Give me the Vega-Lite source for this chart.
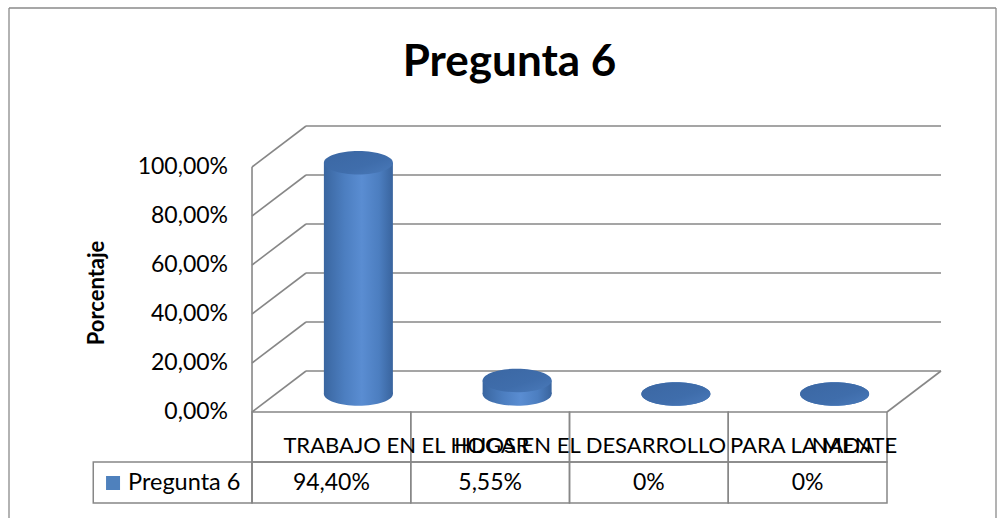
{
  "$schema": "https://vega.github.io/schema/vega-lite/v6.json",
  "width": 987,
  "height": 510,
  "autosize": "none",
  "padding": {"left": 9, "top": 8, "right": 4, "bottom": 0},
  "background": "#ffffff",
  "title": {"text": "Pregunta 6", "font": "Lato", "fontSize": 44, "fontWeight": "bold", "color": "#000000", "anchor": "middle", "frame": "group", "offset": 0, "baseline": "alphabetic", "dx": 7, "dy": 113},
  "datasets": {
    "respuestas": [
      {"categoria": "TRABAJO  EN EL HOGAR", "porcentaje": 0.944, "etiqueta": "94,40%"},
      {"categoria": "HIJOS EN EL DESARROLLO", "porcentaje": 0.0555, "etiqueta": "5,55%"},
      {"categoria": "PARA LA MENTE", "porcentaje": 0, "etiqueta": "0%"},
      {"categoria": "NADA", "porcentaje": 0, "etiqueta": "0%"}
    ],
    "rejilla": [{"v": 0}, {"v": 0.2}, {"v": 0.4}, {"v": 0.6}, {"v": 0.8}, {"v": 1}],
    "serie": [{"serie": "Pregunta 6", "eje": "Porcentaje"}]
  },
  "layer": [
    {
      "data": {"name": "rejilla"},
      "mark": {"type": "rule", "color": "#878787", "strokeWidth": 1.6, "xOffset": 54, "x2Offset": 54, "yOffset": -41},
      "encoding": {
        "x": {"datum": "TRABAJO  EN EL HOGAR", "type": "nominal", "bandPosition": 0, "axis": null,
              "scale": {"type": "band", "domain": ["Pregunta 6", "TRABAJO  EN EL HOGAR", "HIJOS EN EL DESARROLLO", "PARA LA MENTE", "NADA"], "paddingInner": 0, "paddingOuter": 0.6087, "align": 0.436}},
        "x2": {"datum": "NADA", "bandPosition": 1},
        "y": {"field": "v", "type": "quantitative", "axis": null,
              "scale": {"type": "linear", "domain": [-0.43265, 1.64898], "nice": false, "zero": false}}
      }
    },
    {
      "data": {"name": "serie"},
      "mark": {"type": "rule", "color": "#8a8a8a", "strokeWidth": 1.3, "xOffset": -84.26},
      "encoding": {
        "x": {"datum": "Pregunta 6", "type": "nominal", "bandPosition": 0, "axis": null},
        "y": {"datum": 1.64898, "type": "quantitative", "axis": null},
        "y2": {"datum": -0.46}
      }
    },
    {
      "data": {"name": "serie"},
      "mark": {"type": "rule", "color": "#8a8a8a", "strokeWidth": 1.3, "xOffset": 109},
      "encoding": {
        "x": {"datum": "NADA", "type": "nominal", "bandPosition": 1, "axis": null},
        "y": {"datum": 1.64898, "type": "quantitative", "axis": null},
        "y2": {"datum": -0.46}
      }
    },
    {
      "data": {"name": "serie"},
      "mark": {"type": "rule", "color": "#8a8a8a", "strokeWidth": 1.3, "xOffset": -84.26, "x2Offset": 109},
      "encoding": {
        "x": {"datum": "Pregunta 6", "type": "nominal", "bandPosition": 0, "axis": null},
        "x2": {"datum": "NADA", "bandPosition": 1},
        "y": {"datum": 1.64898, "type": "quantitative", "axis": null}
      }
    },
    {
      "data": {"name": "rejilla"},
      "mark": {"type": "rule", "color": "#878787", "strokeWidth": 1.6, "x2Offset": 54, "y2Offset": -41},
      "encoding": {
        "x": {"datum": "TRABAJO  EN EL HOGAR", "type": "nominal", "bandPosition": 0, "axis": null},
        "x2": {"datum": "TRABAJO  EN EL HOGAR", "bandPosition": 0},
        "y": {"field": "v", "type": "quantitative", "axis": null},
        "y2": {"field": "v"}
      }
    },
    {
      "data": {"name": "rejilla"},
      "transform": [{"calculate": "replace(format(datum.v, '.2%'), '.', ',')", "as": "etiqueta_eje"}],
      "mark": {"type": "text", "align": "right", "baseline": "middle", "dx": -24, "font": "Lato", "fontSize": 23, "color": "#000000"},
      "encoding": {
        "x": {"datum": "TRABAJO  EN EL HOGAR", "type": "nominal", "bandPosition": 0, "axis": null},
        "y": {"field": "v", "type": "quantitative", "axis": null},
        "text": {"field": "etiqueta_eje"}
      }
    },
    {
      "data": {"name": "serie"},
      "mark": {"type": "text", "align": "center", "baseline": "middle", "angle": 270, "xOffset": 4, "font": "Lato", "fontSize": 22, "fontWeight": "bold", "color": "#000000"},
      "encoding": {
        "x": {"datum": "Pregunta 6", "type": "nominal", "bandPosition": 0, "axis": null},
        "y": {"datum": 0.4857, "type": "quantitative", "axis": null},
        "text": {"field": "eje"}
      }
    },
    {
      "data": {"name": "serie"},
      "mark": {"type": "rule", "color": "#878787", "strokeWidth": 1.6},
      "encoding": {
        "x": {"datum": "TRABAJO  EN EL HOGAR", "type": "nominal", "bandPosition": 0, "axis": null},
        "y": {"datum": 1, "type": "quantitative", "axis": null},
        "y2": {"datum": -0.3714}
      }
    },
    {
      "data": {"name": "serie"},
      "mark": {"type": "rule", "color": "#878787", "strokeWidth": 1.6, "x2Offset": 54, "y2Offset": -41},
      "encoding": {
        "x": {"datum": "NADA", "type": "nominal", "bandPosition": 1, "axis": null},
        "x2": {"datum": "NADA", "bandPosition": 1},
        "y": {"datum": 0, "type": "quantitative", "axis": null},
        "y2": {"datum": 0}
      }
    },
    {
      "data": {"name": "respuestas"},
      "mark": {"type": "rect", "fillOpacity": 0, "stroke": "#878787", "strokeWidth": 1.5},
      "encoding": {
        "x": {"field": "categoria", "type": "nominal", "axis": null},
        "y": {"datum": 0, "type": "quantitative", "axis": null},
        "y2": {"datum": -0.2041}
      }
    },
    {
      "data": {"name": "respuestas"},
      "mark": {"type": "rect", "fillOpacity": 0, "stroke": "#878787", "strokeWidth": 1.5},
      "encoding": {
        "x": {"field": "categoria", "type": "nominal", "axis": null},
        "y": {"datum": -0.2041, "type": "quantitative", "axis": null},
        "y2": {"datum": -0.3714}
      }
    },
    {
      "data": {"name": "serie"},
      "mark": {"type": "rect", "fillOpacity": 0, "stroke": "#878787", "strokeWidth": 1.5},
      "encoding": {
        "x": {"field": "serie", "type": "nominal", "axis": null},
        "y": {"datum": -0.2041, "type": "quantitative", "axis": null},
        "y2": {"datum": -0.3714}
      }
    },
    {
      "data": {"name": "respuestas"},
      "mark": {"type": "point", "shape": "M-1,0A1,0.34,0,1,1,1,0A1,0.34,0,1,1,-1,0Z", "size": 4761, "filled": true, "opacity": 1, "strokeWidth": 0, "xOffset": 27, "yOffset": -18,
               "fill": {"gradient": "linear", "x1": 0, "y1": 0, "x2": 1, "y2": 0, "stops": [{"offset": 0, "color": "#3a66a0"}, {"offset": 0.3, "color": "#4c7ec0"}, {"offset": 0.55, "color": "#5a8dd2"}, {"offset": 0.8, "color": "#4c7ec0"}, {"offset": 1, "color": "#39649e"}]}},
      "encoding": {
        "x": {"field": "categoria", "type": "nominal", "axis": null},
        "y": {"datum": 0, "type": "quantitative", "axis": null}
      }
    },
    {
      "data": {"name": "respuestas"},
      "mark": {"type": "bar", "width": 69, "xOffset": 27, "yOffset": -18, "y2Offset": -18,
               "fill": {"gradient": "linear", "x1": 0, "y1": 0, "x2": 1, "y2": 0, "stops": [{"offset": 0, "color": "#3a66a0"}, {"offset": 0.3, "color": "#4c7ec0"}, {"offset": 0.55, "color": "#5a8dd2"}, {"offset": 0.8, "color": "#4c7ec0"}, {"offset": 1, "color": "#39649e"}]}},
      "encoding": {
        "x": {"field": "categoria", "type": "nominal", "axis": null},
        "y": {"field": "porcentaje", "type": "quantitative", "axis": null},
        "y2": {"datum": 0}
      }
    },
    {
      "data": {"name": "respuestas"},
      "mark": {"type": "point", "shape": "M-1,0A1,0.34,0,1,1,1,0A1,0.34,0,1,1,-1,0Z", "size": 4761, "filled": true, "opacity": 1, "strokeWidth": 0, "xOffset": 27, "yOffset": -18,
               "fill": {"gradient": "linear", "x1": 0, "y1": 0, "x2": 1, "y2": 1, "stops": [{"offset": 0, "color": "#3b67a3"}, {"offset": 0.6, "color": "#3f6dab"}, {"offset": 1, "color": "#4a7aba"}]}},
      "encoding": {
        "x": {"field": "categoria", "type": "nominal", "axis": null},
        "y": {"field": "porcentaje", "type": "quantitative", "axis": null}
      }
    },
    {
      "data": {"name": "respuestas"},
      "mark": {"type": "text", "align": "center", "baseline": "middle", "font": "Lato", "fontSize": 23, "color": "#000000"},
      "encoding": {
        "x": {"field": "categoria", "type": "nominal", "axis": null},
        "y": {"datum": -0.2898, "type": "quantitative", "axis": null},
        "text": {"field": "etiqueta"}
      }
    },
    {
      "data": {"name": "serie"},
      "mark": {"type": "point", "shape": "square", "size": 196, "filled": true, "opacity": 1, "color": "#4f81bd", "xOffset": -59.6},
      "encoding": {
        "x": {"field": "serie", "type": "nominal", "axis": null},
        "y": {"datum": -0.2898, "type": "quantitative", "axis": null}
      }
    },
    {
      "data": {"name": "serie"},
      "mark": {"type": "text", "align": "left", "baseline": "middle", "dx": -44.6, "font": "Lato", "fontSize": 23.5, "color": "#000000"},
      "encoding": {
        "x": {"field": "serie", "type": "nominal", "axis": null},
        "y": {"datum": -0.2898, "type": "quantitative", "axis": null},
        "text": {"field": "serie"}
      }
    },
    {
      "data": {"name": "respuestas"},
      "transform": [{"filter": "datum.categoria === 'TRABAJO  EN EL HOGAR'"}],
      "mark": {"type": "text", "align": "left", "baseline": "middle", "dx": -48, "font": "Lato", "fontSize": 22, "color": "#000000"},
      "encoding": {
        "x": {"field": "categoria", "type": "nominal", "axis": null},
        "y": {"datum": -0.1388, "type": "quantitative", "axis": null},
        "text": {"field": "categoria"}
      }
    },
    {
      "data": {"name": "respuestas"},
      "transform": [{"filter": "datum.categoria === 'HIJOS EN EL DESARROLLO'"}],
      "mark": {"type": "text", "align": "left", "baseline": "middle", "dx": -36, "font": "Lato", "fontSize": 22, "color": "#000000"},
      "encoding": {
        "x": {"field": "categoria", "type": "nominal", "axis": null},
        "y": {"datum": -0.1388, "type": "quantitative", "axis": null},
        "text": {"field": "categoria"}
      }
    },
    {
      "data": {"name": "respuestas"},
      "transform": [{"filter": "datum.categoria === 'PARA LA MENTE'"}],
      "mark": {"type": "text", "align": "left", "baseline": "middle", "dx": 81, "font": "Lato", "fontSize": 22, "color": "#000000"},
      "encoding": {
        "x": {"field": "categoria", "type": "nominal", "axis": null},
        "y": {"datum": -0.1388, "type": "quantitative", "axis": null},
        "text": {"field": "categoria"}
      }
    },
    {
      "data": {"name": "respuestas"},
      "transform": [{"filter": "datum.categoria === 'NADA'"}],
      "mark": {"type": "text", "align": "left", "baseline": "middle", "dx": 4, "font": "Lato", "fontSize": 22, "color": "#000000"},
      "encoding": {
        "x": {"field": "categoria", "type": "nominal", "axis": null},
        "y": {"datum": -0.1388, "type": "quantitative", "axis": null},
        "text": {"field": "categoria"}
      }
    }
  ],
  "config": {
    "view": {"stroke": null},
    "font": "Lato"
  }
}
